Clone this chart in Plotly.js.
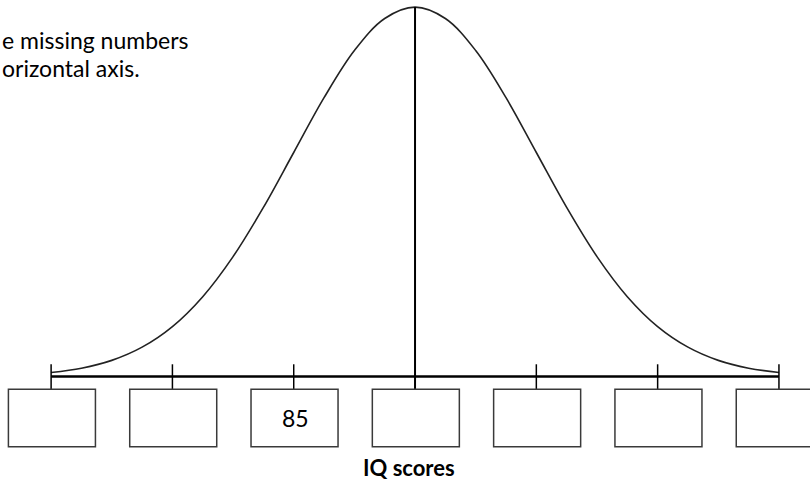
<!DOCTYPE html>
<html>
<head>
<meta charset="utf-8">
<script src="https://cdn.plot.ly/plotly-3.0.1.min.js"></script>
<style>html,body{margin:0;padding:0;background:#fff;}#chart{width:810px;height:483px;}</style>
</head>
<body>
<div id="chart"></div>
<script>
// ---- data ----
const tickValues = [55, 70, 85, 100, 115, 130, 145];
const tickLabels = ["", "", "85", "", "", "", ""];
const curveIQ = [55, 58.75, 62.5, 66.25, 70, 73.75, 77.5, 81.25, 85, 88.75, 92.5, 96.25, 100,
                 103.75, 107.5, 111.25, 115, 118.75, 122.5, 126.25, 130, 133.75, 137.5, 141.25, 145];
const curveHeight = [0.0111, 0.0228, 0.0439, 0.0796, 0.1353, 0.2163, 0.3247, 0.4578, 0.6065, 0.7548, 0.8825, 0.9692, 1,
                     0.9692, 0.8825, 0.7548, 0.6065, 0.4578, 0.3247, 0.2163, 0.1353, 0.0796, 0.0439, 0.0228, 0.0111];
const instructionLines = ["e missing numbers", "orizontal axis."];
const axisTitle = "IQ scores";
const meanIQ = 100;

// ---- layout helpers ----
const boxHalfW = 5.38, boxTop = -0.0344, boxBottom = -0.1897;
const tickTop = 0.0333;
const font = "Lato, 'Open Sans', sans-serif";

const shapes = [];
shapes.push({type: "line", xref: "x", yref: "y", x0: tickValues[0], x1: tickValues[tickValues.length - 1],
  y0: 0, y1: 0, line: {color: "#000", width: 2.5}});
tickValues.forEach(v => {
  const isMean = v === meanIQ;
  shapes.push({type: "line", xref: "x", yref: "y", x0: v, x1: v, y0: isMean ? 1 : tickTop, y1: boxTop,
    line: {color: "#000", width: isMean ? 2 : 1.5}});
  shapes.push({type: "rect", xref: "x", yref: "y", x0: v - boxHalfW + 0.1, x1: v + boxHalfW + 0.1,
    y0: boxBottom, y1: boxTop, line: {color: "#3a3a3a", width: 1.5}, fillcolor: "rgba(0,0,0,0)"});
});

const annotations = [];
tickValues.forEach((v, i) => {
  if (tickLabels[i]) annotations.push({xref: "x", yref: "y", x: v + 0.2, y: (boxTop + boxBottom) / 2,
    yanchor: "middle", text: tickLabels[i], showarrow: false, font: {family: font, size: 23, color: "#000"}});
});
annotations.push({xref: "paper", yref: "paper", x: 408.5 / 810, y: 1 - 467 / 483, xanchor: "center", yanchor: "middle",
  text: "<b>" + axisTitle + "</b>", showarrow: false, font: {family: font, size: 22, color: "#000"}});
instructionLines.forEach((t, i) => {
  annotations.push({xref: "paper", yref: "paper", x: 0, xanchor: "left", yanchor: "middle", y: 1 - (40 + i * 28) / 483,
    text: t, showarrow: false, font: {family: font, size: 23, color: "#000"}});
});

const trace = {x: curveIQ, y: curveHeight, type: "scatter", mode: "lines",
  line: {color: "#222", width: 1.6, shape: "spline", smoothing: 1}, hoverinfo: "skip"};

const layout = {
  width: 810, height: 483,
  margin: {l: 0, r: 0, t: 0, b: 0},
  paper_bgcolor: "#fff", plot_bgcolor: "#fff",
  showlegend: false,
  xaxis: {range: [48.68, 148.84], visible: false, fixedrange: true},
  yaxis: {range: [-0.288, 1.0192], visible: false, fixedrange: true},
  shapes: shapes,
  annotations: annotations
};

Plotly.newPlot("chart", [trace], layout, {staticPlot: true, displayModeBar: false});
</script>
</body>
</html>
